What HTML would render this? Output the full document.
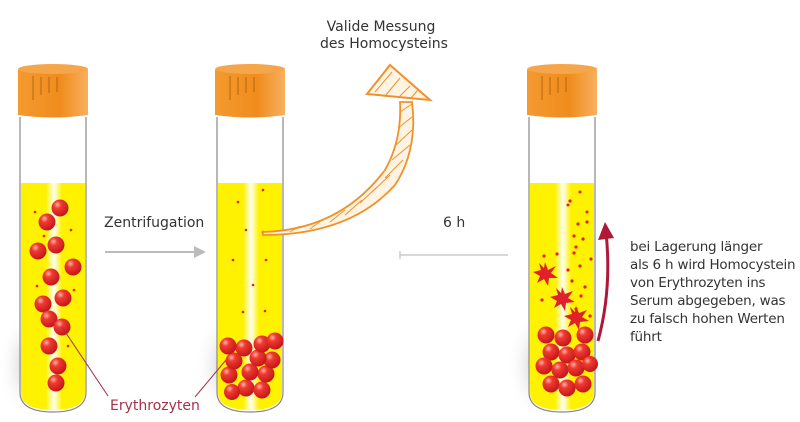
<!DOCTYPE html>
<html><head><meta charset="utf-8"><style>
body{margin:0;background:#fff;}
svg{display:block;font-family:"DejaVu Sans","Liberation Sans",sans-serif;}
</style></head><body>
<svg width="800" height="422" viewBox="0 0 800 422" xmlns="http://www.w3.org/2000/svg">
<defs>
<radialGradient id="ball" cx="0.35" cy="0.3" r="0.75">
<stop offset="0" stop-color="#ffb0a8"/><stop offset="0.3" stop-color="#f03a30"/><stop offset="1" stop-color="#c0141a"/>
</radialGradient>
<linearGradient id="cap" x1="0" x2="1">
<stop offset="0" stop-color="#f49a30"/><stop offset="0.6" stop-color="#f08c1c"/><stop offset="1" stop-color="#f8b060"/>
</linearGradient>
<linearGradient id="hl" x1="0" x2="1">
<stop offset="0" stop-color="#fff" stop-opacity="0"/><stop offset="0.5" stop-color="#fff" stop-opacity="0.95"/><stop offset="1" stop-color="#fff" stop-opacity="0"/>
</linearGradient>
<radialGradient id="shadow" cx="0.5" cy="0.5" r="0.5">
<stop offset="0" stop-color="#aaa" stop-opacity="0.6"/><stop offset="1" stop-color="#fff" stop-opacity="0"/>
</radialGradient>
<g id="tube">
<ellipse cx="28" cy="365" rx="30" ry="55" fill="url(#shadow)"/>
<path d="M21,183 L85,183 L85,392 Q85,410 53,410 Q21,410 21,392Z" fill="#fff200"/>
<rect x="46" y="183" width="16" height="227" fill="url(#hl)"/>
<path d="M20,117 L20,392 Q20,412 53,412 Q86,412 86,392 L86,117" fill="none" stroke="#888" stroke-width="1.2"/>
<path d="M18,70 Q53,62 88,70 L88,115 Q53,120 18,115Z" fill="url(#cap)"/>
<ellipse cx="53" cy="69" rx="35" ry="5" fill="#f6a64a"/>
<g stroke="#a65a10" stroke-width="0.8">
<line x1="33" y1="76" x2="33" y2="100"/><line x1="41" y1="77" x2="41" y2="95"/><line x1="49" y1="77" x2="49" y2="93"/><line x1="57" y1="77" x2="57" y2="92"/>
</g>
</g>
</defs>

<use href="#tube"/>
<use href="#tube" x="197"/>
<use href="#tube" x="509"/>

<g fill="url(#ball)">
<circle cx="60" cy="208" r="8.5"/><circle cx="47" cy="222" r="8.5"/><circle cx="38" cy="251" r="8.5"/><circle cx="56" cy="245" r="8.5"/><circle cx="73" cy="267" r="8.5"/><circle cx="51" cy="277" r="8.5"/><circle cx="63" cy="298" r="8.5"/><circle cx="43" cy="304" r="8.5"/><circle cx="49" cy="319" r="8.5"/><circle cx="62" cy="327" r="8.5"/><circle cx="49" cy="346" r="8.5"/><circle cx="58" cy="366" r="8.5"/><circle cx="56" cy="383" r="8.5"/>
</g>
<g fill="#e0202a">
<circle cx="35" cy="212" r="1.3"/><circle cx="44" cy="236" r="1.3"/><circle cx="71" cy="230" r="1.3"/><circle cx="37" cy="286" r="1.3"/><circle cx="74" cy="290" r="1.3"/><circle cx="68" cy="346" r="1.3"/>
<circle cx="263" cy="190" r="1.3"/><circle cx="238" cy="202" r="1.3"/><circle cx="246" cy="230" r="1.3"/><circle cx="263" cy="232" r="1.3"/><circle cx="233" cy="260" r="1.3"/><circle cx="266" cy="260" r="1.3"/><circle cx="253" cy="285" r="1.3"/><circle cx="243" cy="312" r="1.3"/><circle cx="265" cy="311" r="1.3"/>
</g>
<g fill="url(#ball)">
<circle cx="229" cy="375" r="8.5"/><circle cx="246" cy="388" r="8.5"/><circle cx="262" cy="390" r="8.5"/><circle cx="232" cy="392" r="8"/><circle cx="266" cy="374" r="8.5"/><circle cx="250" cy="372" r="8.5"/><circle cx="234" cy="361" r="8.5"/><circle cx="272" cy="360" r="8.5"/><circle cx="258" cy="358" r="8.5"/><circle cx="244" cy="348" r="8.5"/><circle cx="228" cy="346" r="8.5"/><circle cx="262" cy="344" r="8.5"/><circle cx="275" cy="341" r="8.5"/>
</g>
<g fill="#e0202a">
<circle cx="580" cy="192" r="1.5"/><circle cx="570" cy="201" r="1.6"/><circle cx="568" cy="205" r="1.5"/><circle cx="587" cy="212" r="1.5"/><circle cx="578" cy="224" r="1.6"/><circle cx="587" cy="222" r="1.6"/><circle cx="574" cy="236" r="1.6"/><circle cx="583" cy="239" r="1.6"/><circle cx="576" cy="247" r="1.6"/><circle cx="591" cy="259" r="1.6"/><circle cx="544" cy="256" r="1.6"/><circle cx="557" cy="254" r="1.6"/><circle cx="574" cy="253" r="1.6"/><circle cx="580" cy="266" r="1.6"/><circle cx="568" cy="270" r="1.6"/><circle cx="572" cy="281" r="1.6"/><circle cx="585" cy="287" r="1.6"/><circle cx="581" cy="296" r="1.6"/><circle cx="542" cy="300" r="1.6"/><circle cx="576" cy="309" r="1.6"/><circle cx="590" cy="316" r="1.6"/>
</g>
<g fill="#e0202a">
<polygon points="545,262 548,270 556,266 551,273 558,278 549,278 548,286 544,279 537,283 540,276 533,272 541,270 539,263 544,268"/>
<polygon points="562,287 565,294 573,291 568,298 575,302 566,303 565,311 561,304 554,308 557,301 550,297 558,295 556,288 561,293"/>
<polygon points="576,306 579,313 587,310 582,317 589,321 580,322 579,330 575,323 568,327 571,320 564,316 572,314 570,307 575,312"/>
</g>
<g fill="url(#ball)">
<circle cx="546" cy="335" r="8.5"/><circle cx="563" cy="338" r="8.5"/><circle cx="585" cy="335" r="8.5"/><circle cx="551" cy="352" r="8.5"/><circle cx="567" cy="355" r="8.5"/><circle cx="582" cy="352" r="8.5"/><circle cx="544" cy="366" r="8.5"/><circle cx="560" cy="370" r="8.5"/><circle cx="576" cy="368" r="8.5"/><circle cx="590" cy="364" r="8"/><circle cx="551" cy="384" r="8.5"/><circle cx="567" cy="388" r="8.5"/><circle cx="583" cy="384" r="8.5"/>
</g>
<path d="M598,341 Q612,290 606,232" fill="none" stroke="#b01838" stroke-width="3"/>
<polygon points="605,222 598,240 614,238" fill="#b01838"/>

<path d="M263,232 Q340,230 385,170 Q402,140 400,102 L412,102 Q418,150 395,185 Q350,235 263,235Z" fill="#fff3e3" stroke="#f0922a" stroke-width="1.8"/>
<g stroke="#f0922a" stroke-width="1">
<line x1="290" y1="232" x2="300" y2="226"/><line x1="310" y1="229" x2="322" y2="220"/><line x1="330" y1="222" x2="345" y2="210"/><line x1="345" y1="215" x2="362" y2="200"/><line x1="360" y1="203" x2="376" y2="188"/><line x1="372" y1="192" x2="390" y2="175"/><line x1="385" y1="178" x2="403" y2="160"/><line x1="392" y1="160" x2="410" y2="145"/><line x1="396" y1="145" x2="412" y2="130"/><line x1="398" y1="128" x2="412" y2="117"/><line x1="400" y1="112" x2="412" y2="104"/>
</g>
<polygon points="367,94 390,65 430,100" fill="#fff3e3" stroke="#f0922a" stroke-width="2"/>
<g stroke="#f0922a" stroke-width="1"><line x1="375" y1="92" x2="392" y2="72"/><line x1="385" y1="96" x2="400" y2="78"/><line x1="398" y1="98" x2="410" y2="86"/><line x1="410" y1="99" x2="418" y2="90"/></g>

<line x1="105" y1="252" x2="196" y2="252" stroke="#bbb" stroke-width="2"/>
<polygon points="194,246 206,252 194,258" fill="#bbb"/>
<line x1="400" y1="255" x2="508" y2="255" stroke="#ccc" stroke-width="1.5"/>
<line x1="400" y1="251" x2="400" y2="259" stroke="#ccc" stroke-width="1.5"/>

<line x1="62" y1="327" x2="108" y2="396" stroke="#a03048" stroke-width="1"/>
<line x1="226" y1="360" x2="195" y2="397" stroke="#a03048" stroke-width="1"/>
<text x="110" y="410" font-size="14" fill="#a83048">Erythrozyten</text>
<text x="104" y="227" font-size="14" fill="#333">Zentrifugation</text>
<text x="443" y="227" font-size="14" fill="#333">6 h</text>
<text x="381" y="31" font-size="14" fill="#333" text-anchor="middle">Valide Messung</text>
<text x="384" y="48" font-size="14" fill="#333" text-anchor="middle">des Homocysteins</text>
<g font-size="13.5" fill="#333" letter-spacing="-0.2">
<text x="630" y="251">bei Lagerung länger</text>
<text x="630" y="269">als 6 h wird Homocystein</text>
<text x="630" y="287">von Erythrozyten ins</text>
<text x="630" y="305">Serum abgegeben, was</text>
<text x="630" y="323">zu falsch hohen Werten</text>
<text x="630" y="341">führt</text>
</g>
</svg>
</body></html>
